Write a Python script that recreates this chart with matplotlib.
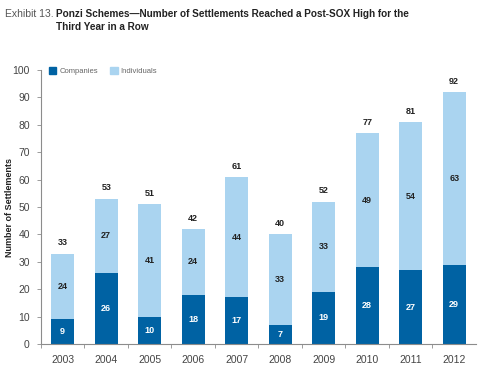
import numpy as np
import matplotlib
matplotlib.use("Agg")
import matplotlib.pyplot as plt
import matplotlib.patches as mpatches

# Data
years       = ["2003", "2004", "2005", "2006", "2007", "2008", "2009", "2010", "2011", "2012"]
companies   = [9, 26, 10, 18, 17, 7, 19, 28, 27, 29]
individuals = [24, 27, 41, 24, 44, 33, 33, 49, 54, 63]

DARK  = "#0062A3"
LIGHT = "#AAD4F0"
GRAY  = "#8C8C8C"
TXT   = "#444444"

plt.rcParams["font.family"] = ["Liberation Sans", "DejaVu Sans"]

fig = plt.figure(figsize=(4.81, 3.73), dpi=100)
ax = fig.add_axes([0.0852, 0.0777, 0.9044, 0.7346])

x = np.arange(len(years))
comp = np.array(companies)
indv = np.array(individuals)
tot = comp + indv

ax.bar(x, comp, width=0.53, color=DARK, zorder=2)
ax.bar(x, indv, width=0.53, bottom=comp, color=LIGHT, zorder=2)

# segment values and totals
for i in range(len(years)):
    ax.text(x[i], comp[i] / 2, str(comp[i]), ha="center", va="center",
            fontsize=6.5, fontweight="bold", color="white")
    ax.text(x[i], comp[i] + indv[i] / 2, str(indv[i]), ha="center", va="center",
            fontsize=6.5, fontweight="bold", color="#222222")
    ax.text(x[i], tot[i] + 2.3, str(tot[i]), ha="center", va="bottom",
            fontsize=6.5, fontweight="bold", color="#222222")

ax.set_xlim(-0.5, 9.5)
ax.set_ylim(0, 100)
ax.set_yticks(range(0, 101, 10))
ax.set_xticks(x)
ax.set_xticklabels(years)
ax.set_xticks(np.arange(-0.5, 9.5, 1), minor=True)
ax.tick_params(axis="x", which="major", length=0, pad=8, labelsize=7.5, labelcolor=TXT)
ax.tick_params(axis="x", which="minor", length=3, color=GRAY, width=0.6)
ax.tick_params(axis="y", length=3, color=GRAY, width=0.6, pad=5, labelsize=7.5, labelcolor=TXT)

for s in ["top", "right"]:
    ax.spines[s].set_visible(False)
for s in ["left", "bottom"]:
    ax.spines[s].set_color(GRAY)
    ax.spines[s].set_linewidth(0.8)

ax.set_ylabel("Number of Settlements", fontsize=6.5, fontweight="bold", color="#222222")
ax.yaxis.set_label_coords(-0.061, 0.5)

ax.legend(handles=[mpatches.Patch(color=DARK, label="Companies"),
                   mpatches.Patch(color=LIGHT, label="Individuals")],
          loc="upper left", bbox_to_anchor=(0.005, 1.03), ncol=2, frameon=False,
          fontsize=5.5, handlelength=1.0, handleheight=1.0, handletextpad=0.4,
          columnspacing=1.6, labelcolor="#666666", borderaxespad=0.3)

fig.text(0.010, 0.963, "Exhibit 13.", fontsize=7.5, color="#555555", va="center")
fig.text(0.117, 0.963, "Ponzi Schemes\u2014Number of Settlements Reached a Post-SOX High for the",
         fontsize=7.2, fontweight="bold", color="#222222", va="center")
fig.text(0.117, 0.927, "Third Year in a Row",
         fontsize=7.2, fontweight="bold", color="#222222", va="center")

fig.savefig("out.png", dpi=100)
